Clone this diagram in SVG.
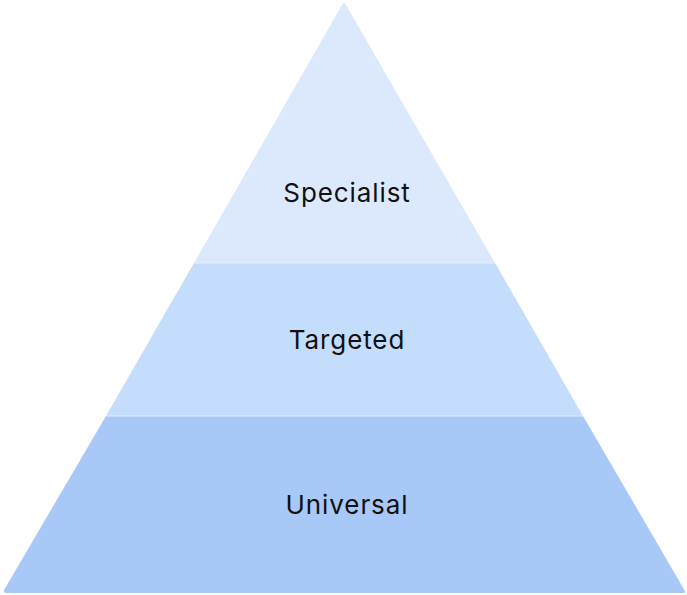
<svg xmlns="http://www.w3.org/2000/svg" width="687" height="595" viewBox="0 0 687 595">
<style>
.t{font-family:Inter,"Noto Sans",sans-serif;font-size:26px;letter-spacing:0.9px;fill:#111;text-anchor:middle;dominant-baseline:central}
.sep{stroke:#e3eefc;stroke-width:1}
</style>
<rect width="687" height="595" fill="#fff"/>
<g id="specialist">
<path d="M342,5 Q344,1 346,5 L495,263 L194,263 Z" fill="#dce9fd"/>
<text class="t" x="347" y="192">Specialist</text>
</g>
<g id="targeted">
<path d="M194,263 L495,263 L583,416 L106,416 Z" fill="#c5ddfd"/>
<text class="t" x="347" y="339">Targeted</text>
</g>
<g id="universal">
<path d="M106,416 L583,416 L685,591 Q686,593 683,593 L6,593 Q3,593 4,590 Z" fill="#a8c9f7"/>
<text class="t" x="347" y="504">Universal</text>
</g>
<g id="connectors">
<line class="sep" x1="194" y1="263" x2="495" y2="263"/>
<line class="sep" x1="106" y1="416" x2="583" y2="416"/>
</g>
</svg>
